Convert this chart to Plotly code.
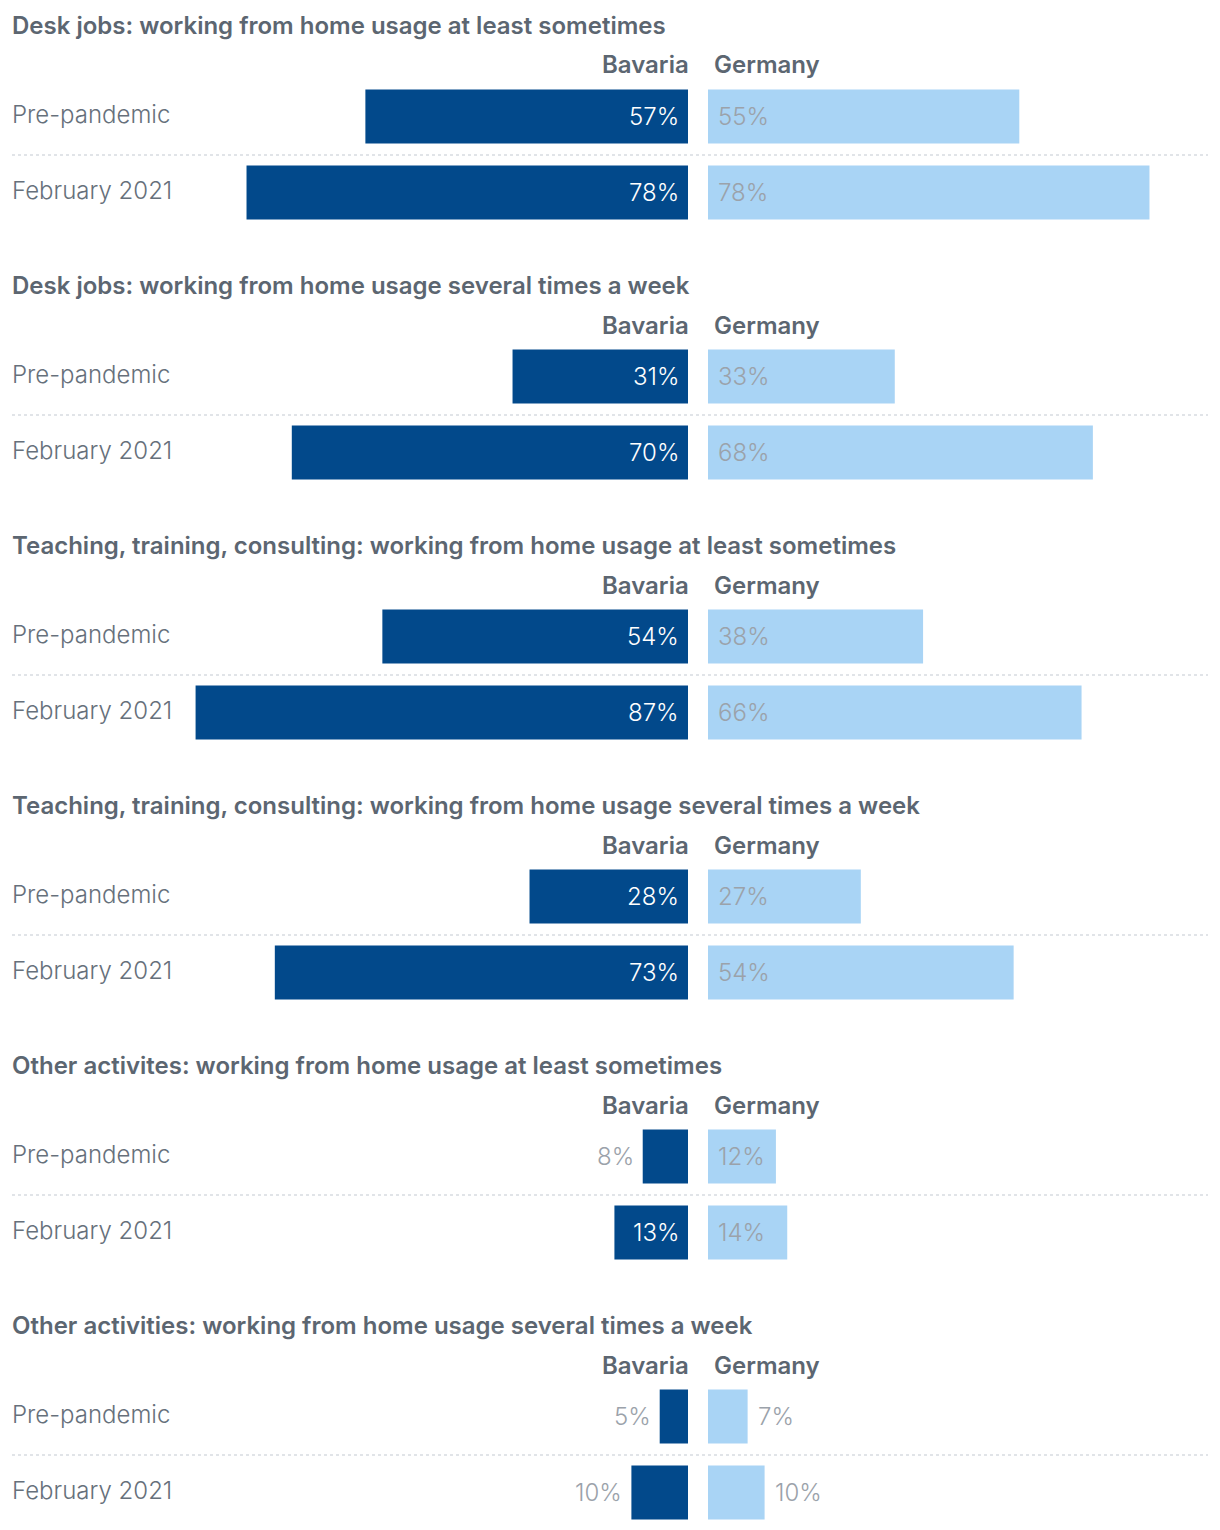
import plotly.graph_objects as go

# ---------------- data ----------------
section_titles = [
    "Desk jobs: working from home usage at least sometimes",
    "Desk jobs: working from home usage several times a week",
    "Teaching, training, consulting: working from home usage at least sometimes",
    "Teaching, training, consulting: working from home usage several times a week",
    "Other activites: working from home usage at least sometimes",
    "Other activities: working from home usage several times a week",
]
periods = ["Pre-pandemic", "February 2021"]
bavaria = [[57, 78], [31, 70], [54, 87], [28, 73], [8, 13], [5, 10]]
germany = [[55, 78], [33, 68], [38, 66], [27, 54], [12, 14], [7, 10]]
series_names = ["Bavaria", "Germany"]

# ---------------- style ----------------
W, H = 1220, 1530
DARK = "#02498b"
LIGHT = "#a9d4f5"
TITLE_C = "#5c6671"
LABEL_C = "#66707b"
VAL_C = "#9ba2aa"
FONT = "Inter"
PX_PER_PCT = 5.66
SEC_H = 260
LEFT, RIGHT = 12, 1208
BAV_END = 688
GER_START = 708
ROW_STEP = 76
BAR_H = 54
INSIDE_MIN = 11

def fx(px):
    return px / W

def fy(py):
    return 1 - py / H

fig = go.Figure()
layout = {}
annotations = []
shapes = []

for k in range(6):
    off = SEC_H * k
    xa_b = f"x{2*k+1}"
    xa_g = f"x{2*k+2}"
    ya = f"y{k+1}"
    top = 78.5 + off
    bottom = min(top + 2 * ROW_STEP, H)
    yr_end = (bottom - top) / ROW_STEP - 0.5
    yname = "yaxis" if k == 0 else f"yaxis{k+1}"
    layout[yname] = dict(
        domain=[fy(bottom), fy(top)], range=[yr_end, -0.5],
        visible=False, anchor=xa_b, fixedrange=True,
    )
    xb_name = f"xaxis{2*k+1}" if k > 0 else "xaxis"
    xg_name = f"xaxis{2*k+2}"
    layout[xb_name] = dict(
        domain=[fx(LEFT), fx(BAV_END)],
        range=[(BAV_END - LEFT) / PX_PER_PCT, 0],
        visible=False, anchor=ya, fixedrange=True,
    )
    layout[xg_name] = dict(
        domain=[fx(GER_START), fx(RIGHT)],
        range=[0, (RIGHT - GER_START) / PX_PER_PCT],
        visible=False, anchor=ya, fixedrange=True,
    )
    width = BAR_H / ROW_STEP
    fig.add_trace(go.Bar(
        x=bavaria[k], y=[0, 1], orientation="h", marker_color=DARK,
        width=width, xaxis=xa_b, yaxis=ya, showlegend=False, hoverinfo="skip",
        marker_line_width=0,
    ))
    fig.add_trace(go.Bar(
        x=germany[k], y=[0, 1], orientation="h", marker_color=LIGHT,
        width=width, xaxis=xa_g, yaxis=ya, showlegend=False, hoverinfo="skip",
        marker_line_width=0,
    ))

    annotations.append(dict(
        text=section_titles[k], xref="paper", yref="paper", x=fx(LEFT), y=fy(25 + off),
        xanchor="left", yanchor="middle", showarrow=False, xshift=-2,
        font=dict(family=FONT, size=24, color=TITLE_C, weight=600),
    ))
    annotations.append(dict(
        text=series_names[0], xref="paper", yref="paper", x=fx(BAV_END), y=fy(65 + off),
        xanchor="right", yanchor="middle", showarrow=False, xshift=3,
        font=dict(family=FONT, size=24, color=TITLE_C, weight=600),
    ))
    annotations.append(dict(
        text=series_names[1], xref="paper", yref="paper", x=fx(GER_START + 4), y=fy(65 + off),
        xanchor="left", yanchor="middle", showarrow=False,
        font=dict(family=FONT, size=24, color=TITLE_C, weight=600),
    ))
    for i, p in enumerate(periods):
        annotations.append(dict(
            text=p, xref="paper", yref=ya, x=fx(LEFT), y=i - 0.02,
            xanchor="left", yanchor="middle", showarrow=False, xshift=-2,
            font=dict(family=FONT, size=24, color=LABEL_C, weight=300),
        ))
        vb = bavaria[k][i]
        if vb >= INSIDE_MIN:
            annotations.append(dict(
                text=f"{vb}%", xref=xa_b, yref=ya, x=0, y=i, xanchor="right",
                yanchor="middle", xshift=-7, showarrow=False,
                font=dict(family=FONT, size=24, color="white", weight=300),
            ))
        else:
            annotations.append(dict(
                text=f"{vb}%", xref=xa_b, yref=ya, x=vb, y=i, xanchor="right",
                yanchor="middle", xshift=-7, showarrow=False,
                font=dict(family=FONT, size=24, color=VAL_C, weight=300),
            ))
        vg = germany[k][i]
        if vg >= INSIDE_MIN:
            annotations.append(dict(
                text=f"{vg}%", xref=xa_g, yref=ya, x=0, y=i, xanchor="left",
                yanchor="middle", xshift=8, showarrow=False,
                font=dict(family=FONT, size=24, color=VAL_C, weight=300),
            ))
        else:
            annotations.append(dict(
                text=f"{vg}%", xref=xa_g, yref=ya, x=vg, y=i, xanchor="left",
                yanchor="middle", xshift=8, showarrow=False,
                font=dict(family=FONT, size=24, color=VAL_C, weight=300),
            ))
    shapes.append(dict(
        type="line", xref="paper", yref="paper",
        x0=fx(LEFT), x1=fx(RIGHT), y0=fy(155 + off), y1=fy(155 + off),
        line=dict(color="#e1e4e8", width=2, dash="dot"),
    ))

fig.update_layout(
    width=W, height=H, margin=dict(l=0, r=0, t=0, b=0),
    paper_bgcolor="white", plot_bgcolor="rgba(0,0,0,0)",
    barmode="overlay", annotations=annotations, shapes=shapes,
    **layout,
)

fig.write_html(
    "out.html",
    config={"displayModeBar": False, "staticPlot": True},
    post_script="document.body.style.margin='0';",
)
